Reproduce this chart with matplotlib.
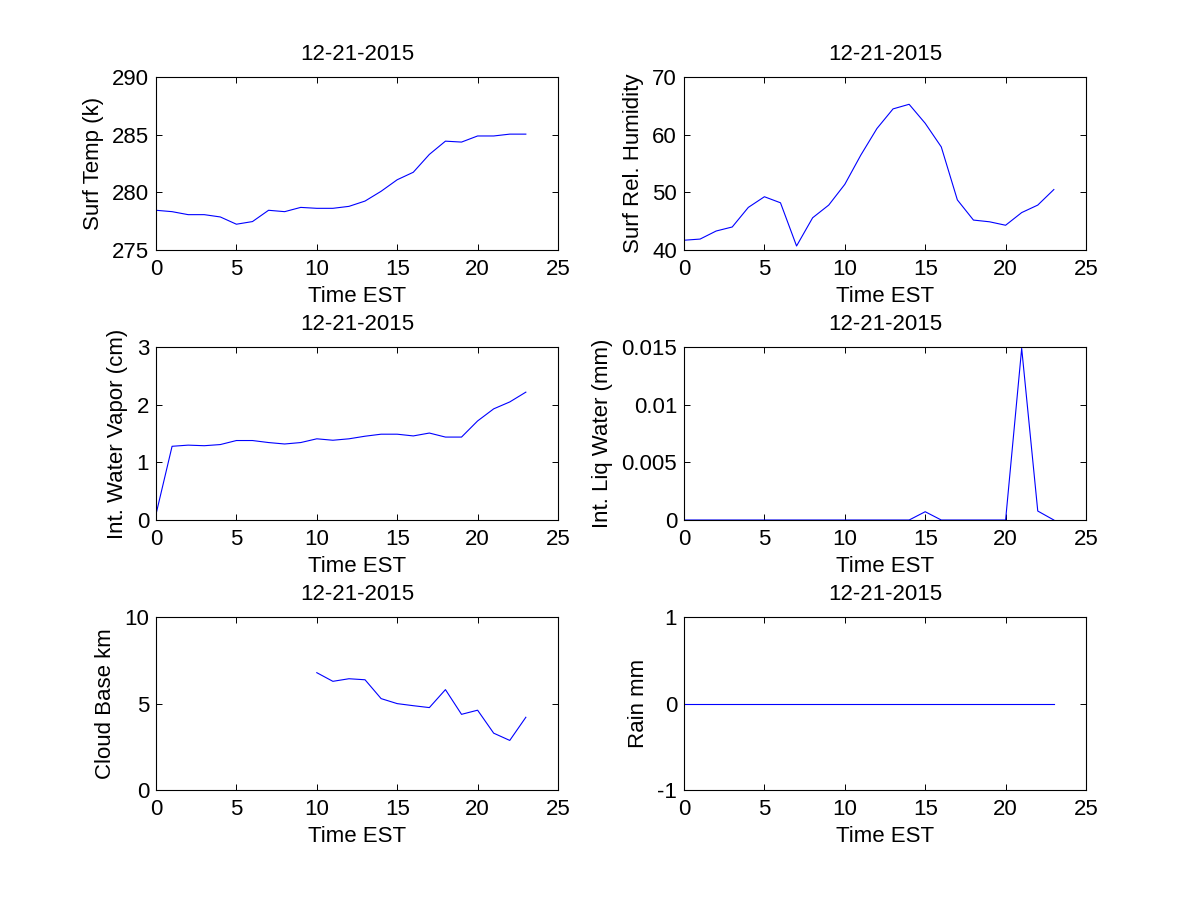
import numpy as np
import matplotlib
matplotlib.use("Agg")
import matplotlib.pyplot as plt
from matplotlib.ticker import FuncFormatter

plt.rcParams['font.family'] = ['Liberation Sans', 'DejaVu Sans']
plt.rcParams['axes.unicode_minus'] = False

hours = list(range(24))
date_title = "12-21-2015"
xlabel = "Time EST"

surf_temp = [278.45, 278.33, 278.07, 278.07, 277.87, 277.24, 277.47, 278.45,
             278.33, 278.70, 278.62, 278.62, 278.79, 279.25, 280.10, 281.10,
             281.75, 283.30, 284.45, 284.37, 284.90, 284.90, 285.06, 285.06]
surf_rh = [41.7, 41.9, 43.3, 44.0, 47.4, 49.25, 48.2, 40.7, 45.6, 47.8, 51.4, 56.5,
           61.1, 64.5, 65.3, 62.0, 57.9, 48.7, 45.2, 44.9, 44.3, 46.5, 47.8, 50.5]
water_vapor = [0.10, 1.28, 1.30, 1.29, 1.31, 1.38, 1.38, 1.345, 1.32, 1.345, 1.41, 1.385,
               1.41, 1.455, 1.49, 1.49, 1.46, 1.51, 1.44, 1.44, 1.72, 1.93, 2.05, 2.22]
liq_water = [0, 0, 0, 0, 0, 0, 0, 0, 0, 0, 0, 0,
             0, 0, 0, 0.00072, 0, 0, 0, 0, 0, 0.0149, 0.00078, 0]
cloud_base = [np.nan] * 10 + [6.79, 6.29, 6.44, 6.38, 5.29, 5.00, 4.88, 4.77,
                              5.81, 4.38, 4.62, 3.29, 2.87, 4.21]
rain = [0] * 24

panels = [
    (surf_temp, "Surf Temp (k)", (275, 290), [275, 280, 285, 290]),
    (surf_rh, "Surf Rel. Humidity", (40, 70), [40, 50, 60, 70]),
    (water_vapor, "Int. Water Vapor (cm)", (0, 3), [0, 1, 2, 3]),
    (liq_water, "Int. Liq Water (mm)", (0, 0.015), [0, 0.005, 0.01, 0.015]),
    (cloud_base, "Cloud Base km", (0, 10), [0, 5, 10]),
    (rain, "Rain mm", (-1, 1), [-1, 0, 1]),
]

fig = plt.figure(figsize=(12, 9), dpi=100)
lefts = [0.13, 0.57]
bottoms = [0.7222, 0.4222, 0.1222]
w, h = 0.335, 0.192
fs = 16

for i, (vals, ylab, ylim, yt) in enumerate(panels):
    r, c = divmod(i, 2)
    ax = fig.add_axes([lefts[c], bottoms[r], w, h])
    ax.plot(hours, vals, color='#0000ff', linewidth=0.8)
    ax.set_xlim(0, 25)
    ax.set_ylim(*ylim)
    ax.set_xticks([0, 5, 10, 15, 20, 25])
    ax.set_yticks(yt)
    ax.yaxis.set_major_formatter(FuncFormatter(lambda v, p: '{:g}'.format(round(v, 6))))
    ax.tick_params(direction='in', top=True, right=True, length=4, width=0.7,
                   labelsize=fs, pad=6.5)
    ax.tick_params(axis='y', pad=5)
    for s in ax.spines.values():
        s.set_linewidth(0.8)
    ax.set_title(date_title, fontsize=fs, pad=12.5)
    ax.set_xlabel(xlabel, fontsize=fs, labelpad=4)
    ax.set_ylabel(ylab, fontsize=fs, labelpad=6)

fig.savefig("out.png", dpi=100)
